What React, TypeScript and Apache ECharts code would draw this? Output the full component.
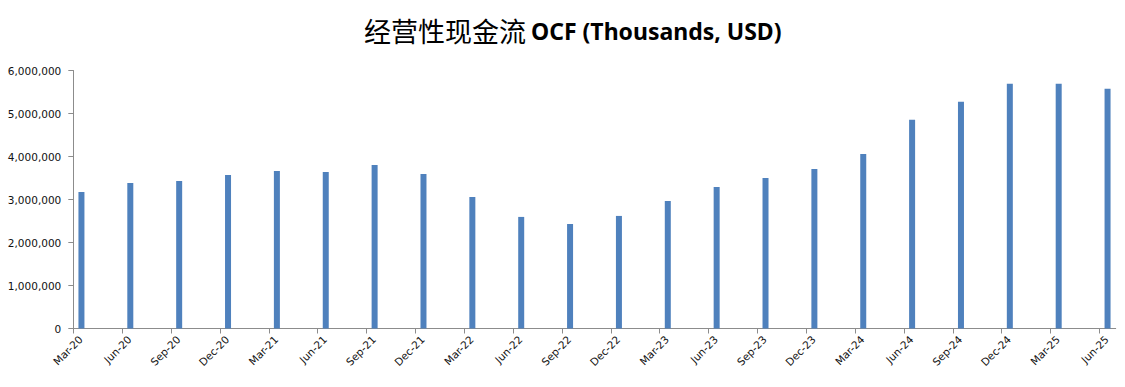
import React, { useEffect, useRef } from "react";
import * as echarts from "echarts";

const categories = [
  "Mar-20", "Jun-20", "Sep-20", "Dec-20",
  "Mar-21", "Jun-21", "Sep-21", "Dec-21",
  "Mar-22", "Jun-22", "Sep-22", "Dec-22",
  "Mar-23", "Jun-23", "Sep-23", "Dec-23",
  "Mar-24", "Jun-24", "Sep-24", "Dec-24",
  "Mar-25", "Jun-25",
];

const ocfValues = [
  3177000, 3386000, 3430000, 3570000,
  3665000, 3640000, 3800000, 3595000,
  3060000, 2595000, 2430000, 2618000,
  2967000, 3293000, 3502000, 3712000,
  4061000, 4852000, 5271000, 5690000,
  5690000, 5573000,
];

const yTicks = [0, 1000000, 2000000, 3000000, 4000000, 5000000, 6000000];

const MONTHS = ["Jan", "Feb", "Mar", "Apr", "May", "Jun", "Jul", "Aug", "Sep", "Oct", "Nov", "Dec"];
const monthIndex = (label: string) => {
  const [m, y] = label.split("-");
  return (parseInt(y, 10) - 20) * 12 + MONTHS.indexOf(m) - 2; // months since Mar-20
};

export default function App() {
  const ref = useRef<HTMLDivElement>(null);

  useEffect(() => {
    document.body.style.margin = "0";
    if (!ref.current) return;
    const chart = echarts.init(ref.current, undefined, { renderer: "svg" });
    const tickPositions = categories.map((c) => monthIndex(c));
    const labelPositions = tickPositions.map((t) => t + 0.45);
    const lastSlotEnd = monthIndex(categories[categories.length - 1]) + 1;
    const labelFont = "DejaVu Sans";
    chart.setOption({
      animation: false,
      title: {
        text: "{a|经营性现金流} {b|OCF (Thousands, USD)}",
        left: 359,
        top: 12,
        textStyle: {
          rich: {
            a: { fontFamily: "Noto Sans CJK SC", fontSize: 27, fontWeight: "normal", color: "#000" },
            b: { fontFamily: "Noto Sans", fontSize: 23, fontWeight: "bold", color: "#000" },
          },
        },
      },
      grid: { left: 73.3, right: 9.3, top: 70.5, bottom: 58.5, containLabel: false },
      xAxis: {
        type: "value",
        min: 0,
        max: lastSlotEnd,
        splitLine: { show: false },
        axisLine: { show: true, lineStyle: { color: "#8c8c8c", width: 1 } },
        axisTick: {
          show: true,
          customValues: tickPositions,
          length: 5,
          lineStyle: { color: "#8c8c8c" },
        },
        axisLabel: {
          customValues: labelPositions,
          rotate: 45,
          margin: 9,
          fontFamily: labelFont,
          fontSize: 10.5,
          color: "#111",
          formatter: (v: number) => {
            const i = tickPositions.indexOf(Math.round(v - 0.45));
            return i >= 0 ? categories[i] : "";
          },
        },
      },
      yAxis: {
        type: "value",
        min: 0,
        max: 6000000,
        interval: 1000000,
        splitLine: { show: false },
        axisLine: { show: true, lineStyle: { color: "#8c8c8c", width: 1 } },
        axisTick: { show: true, length: 5, lineStyle: { color: "#8c8c8c" } },
        axisLabel: {
          margin: 12,
          fontFamily: labelFont,
          fontSize: 10.5,
          color: "#111",
          formatter: (v: number) => (yTicks.includes(v) ? v.toLocaleString("en-US") : ""),
        },
      },
      series: [
        {
          type: "bar",
          barWidth: 6,
          itemStyle: { color: "#4F81BD" },
          data: categories.map((c, i) => [monthIndex(c) + 0.5, ocfValues[i]]),
        },
      ],
    });
    return () => chart.dispose();
  }, []);

  return <div ref={ref} style={{ width: 1125, height: 387 }} />;
}
